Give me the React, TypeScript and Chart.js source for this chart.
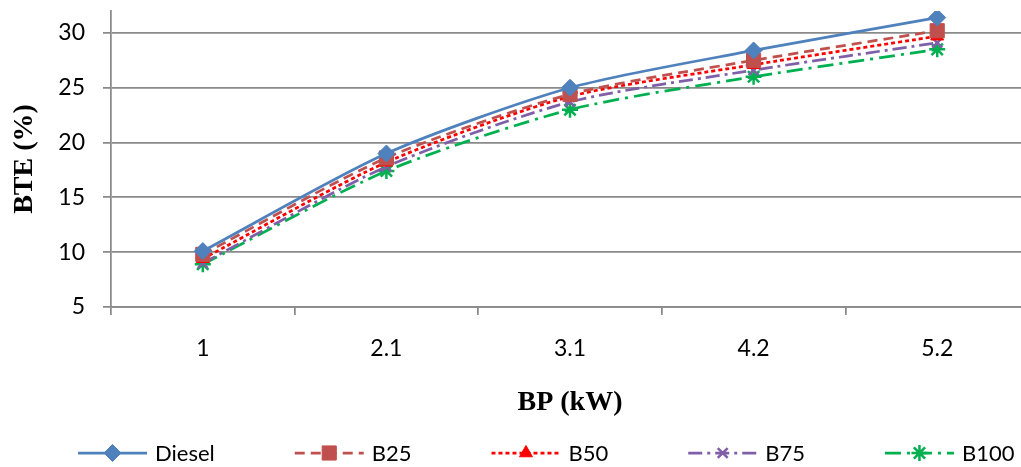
import React, { useEffect, useRef } from 'react';
import { Chart, registerables } from 'chart.js';
import { drawPoint } from 'chart.js/helpers';

Chart.register(...registerables);

const categories = ['1', '2.1', '3.1', '4.2', '5.2'];
const seriesNames = ['Diesel', 'B25', 'B50', 'B75', 'B100'];
const diesel = [10.1, 19.0, 25.0, 28.4, 31.4];
const b25 = [9.8, 18.6, 24.4, 27.5, 30.2];
const b50 = [9.4, 18.2, 24.2, 27.1, 29.7];
const b75 = [9.0, 17.8, 23.7, 26.6, 29.1];
const b100 = [8.9, 17.4, 23.0, 26.0, 28.5];
const yMin = 5;
const yMax = 32;
const yStep = 5;
const xTitle = 'BP (kW)';
const yTitle = 'BTE (%)';

const gridColor = '#8a8a8a';
const tickFont = { family: 'Lato', size: 23 };
const titleFont = { family: 'Liberation Serif', size: 28, weight: 'bold' as const };

const legendPlugin = {
  id: 'lineLegend',
  afterDraw(chart: any) {
    const ctx = chart.ctx as CanvasRenderingContext2D;
    ctx.save();
    ctx.font = '22px Lato';
    ctx.textBaseline = 'middle';
    ctx.textAlign = 'left';
    let x = 78;
    const y = 453;
    const lineW = 69;
    chart.data.datasets.forEach((ds: any) => {
      ctx.strokeStyle = ds.borderColor;
      ctx.lineWidth = ds.borderWidth;
      ctx.setLineDash(ds.borderDash || []);
      ctx.beginPath();
      ctx.moveTo(x, y);
      ctx.lineTo(x + lineW, y);
      ctx.stroke();
      ctx.setLineDash([]);
      ctx.fillStyle = ds.pointBackgroundColor;
      ctx.strokeStyle = ds.pointBorderColor;
      ctx.lineWidth = ds.pointBorderWidth;
      drawPoint(
        ctx,
        { pointStyle: ds.pointStyle, radius: ds.pointRadius, rotation: 0, borderWidth: ds.pointBorderWidth } as any,
        x + lineW / 2,
        y
      );
      ctx.fillStyle = '#000';
      ctx.fillText(ds.label, x + 77, y + 1);
      x += 77 + ctx.measureText(ds.label).width + 80;
    });
    ctx.restore();
  },
};

export default function App() {
  const ref = useRef<HTMLCanvasElement | null>(null);

  useEffect(() => {
    if (!ref.current) return;
    const mk = (
      label: string,
      data: number[],
      color: string,
      dash: number[],
      pointStyle: string,
      radius: number,
      pbw: number
    ) => ({
      label,
      data,
      borderColor: color,
      backgroundColor: color,
      borderWidth: 2.75,
      borderDash: dash,
      pointStyle,
      pointRadius: radius,
      pointHoverRadius: radius,
      pointBackgroundColor: color,
      pointBorderColor: color,
      pointBorderWidth: pbw,
      tension: 0.25,
      fill: false,
    });
    const chart = new Chart(ref.current, {
      type: 'line',
      data: {
        labels: categories,
        datasets: [
          mk(seriesNames[0], diesel, '#4F81BD', [], 'rectRot', 8.5, 1),
          mk(seriesNames[1], b25, '#C0504D', [10, 6], 'rect', 10, 1),
          mk(seriesNames[2], b50, '#FF0000', [4, 3], 'triangle', 7.5, 1),
          mk(seriesNames[3], b75, '#7F5FA8', [14, 5, 3, 5], 'crossRot', 7, 2.5),
          mk(seriesNames[4], b100, '#00B050', [16, 6, 3, 6], 'star', 8, 2.5),
        ],
      },
      options: {
        animation: false,
        responsive: true,
        maintainAspectRatio: false,
        layout: { padding: { left: 0, right: 8, top: 10, bottom: 40 } },
        plugins: {
          legend: { display: false },
          tooltip: { enabled: false },
        },
        scales: {
          x: {
            type: 'category',
            offset: true,
            grid: {
              display: true,
              drawOnChartArea: false,
              drawTicks: true,
              tickLength: 8,
              offset: true,
              color: gridColor,
              lineWidth: 1.75,
            },
            border: { display: true, color: gridColor, width: 1.75 },
            ticks: { font: tickFont, color: '#000', padding: 20, maxRotation: 0, autoSkip: false },
            title: {
              display: true,
              text: xTitle,
              font: titleFont,
              color: '#000',
              padding: { top: 0, bottom: 7 },
            },
            afterFit: (s: any) => {
              s.height = 120;
              s.paddingLeft = 0;
              s.paddingRight = 0;
            },
          },
          y: {
            min: yMin,
            max: yMax,
            grid: { color: gridColor, lineWidth: 1.75, tickLength: 8, drawTicks: true },
            border: { display: true, color: gridColor, width: 1.75 },
            ticks: {
              stepSize: yStep,
              includeBounds: false,
              padding: 18,
              font: tickFont,
              color: '#000',
            },
            title: {
              display: true,
              text: yTitle,
              font: titleFont,
              color: '#000',
              padding: { top: 8, bottom: 0 },
            },
            afterFit: (s: any) => {
              s.width = 111;
              s.paddingTop = 0;
              s.paddingBottom = 0;
            },
          },
        },
      },
      plugins: [legendPlugin],
    });
    return () => chart.destroy();
  }, []);

  return (
    <div style={{ position: 'fixed', left: 0, top: 0, width: 1021, height: 467, overflow: 'hidden', background: '#fff' }}>
      <div style={{ position: 'relative', width: 1040, height: 467 }}>
        <canvas ref={ref} />
      </div>
    </div>
  );
}
